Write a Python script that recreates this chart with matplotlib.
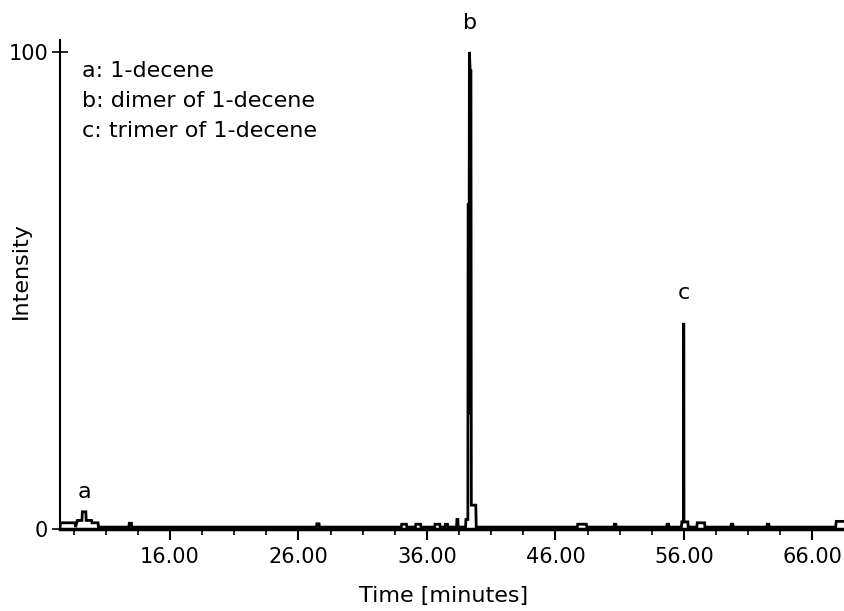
import matplotlib
matplotlib.use('Agg')
import matplotlib.pyplot as plt

# retention time (minutes) and relative intensity of the trace
rt = [7.44, 7.50, 8.60, 8.65, 8.80, 9.15, 9.18, 9.45, 9.48, 9.90, 9.93, 10.40, 10.43,
      12.80, 12.83, 13.00, 13.03,
      27.40, 27.43, 27.60, 27.63,
      34.00, 34.03, 34.40, 34.43, 35.10, 35.13, 35.50, 35.53,
      36.60, 36.63, 37.00, 37.03, 37.40, 37.43, 37.60, 37.63,
      38.30, 38.33, 38.40, 38.43,
      39.00, 39.03, 39.18, 39.20, 39.24, 39.26, 39.30, 39.36, 39.42, 39.45, 39.80, 39.83,
      47.70, 47.73, 48.40, 48.43, 50.55, 50.58, 50.70, 50.73,
      54.65, 54.68, 54.80, 54.83,
      55.80, 55.83, 55.97, 55.98, 56.00, 56.30, 56.33,
      57.00, 57.03, 57.60, 57.63,
      59.65, 59.68, 59.80, 59.83, 62.45, 62.48, 62.60, 62.63,
      67.80, 67.85, 68.53]
intensity = [0.4, 1.3, 1.3, 0.4, 1.8, 1.8, 3.6, 3.6, 1.8, 1.8, 1.3, 1.3, 0.4,
             0.4, 1.2, 1.2, 0.4,
             0.4, 1.1, 1.1, 0.4,
             0.4, 1.0, 1.0, 0.4, 0.4, 1.0, 1.0, 0.4,
             0.4, 1.0, 1.0, 0.4, 0.4, 1.0, 1.0, 0.4,
             0.4, 2.0, 2.0, 0.4,
             0.4, 2.0, 2.0, 68.0, 68.0, 24.0, 100.0, 96.0, 96.0, 5.0, 5.0, 0.4,
             0.4, 1.0, 1.0, 0.4, 0.4, 1.0, 1.0, 0.4,
             0.4, 1.0, 1.0, 0.4,
             0.4, 1.5, 1.5, 43.2, 1.5, 1.5, 0.4,
             0.4, 1.3, 1.3, 0.4,
             0.4, 1.0, 1.0, 0.4, 0.4, 1.0, 1.0, 0.4,
             0.4, 1.6, 1.6]

# peak labels: letter, time, height
peak_names = ['a', 'b', 'c']
peak_rt = [9.35, 39.32, 56.0]
peak_top = [3.6, 100.0, 43.2]
peak_offset = [20, 29, 30]

legend_lines = ['a: 1-decene', 'b: dimer of 1-decene', 'c: trimer of 1-decene']

xticks = [16, 26, 36, 46, 56, 66]
xtick_labels = ['16.00', '26.00', '36.00', '46.00', '56.00', '66.00']
xminor = [8.5 + 2.5 * k for k in range(25)]

plt.rcParams['font.family'] = 'DejaVu Sans'
plt.rcParams['font.size'] = 15

fig = plt.figure(figsize=(8.45, 6.11), dpi=100)
ax = fig.add_axes([60 / 845, 82 / 611, 785 / 845, 489 / 611])

ax.plot(rt, intensity, color='black', lw=2.0, solid_joinstyle='miter')

ax.set_xlim(7.44, 68.53)
ax.set_ylim(0, 102.5)

for s in ['top', 'right']:
    ax.spines[s].set_visible(False)
ax.spines['bottom'].set_linewidth(2.5)
ax.spines['left'].set_linewidth(1.5)

ax.set_xticks(xticks)
ax.set_xticklabels(xtick_labels)
ax.set_xticks([m for m in xminor if m not in xticks], minor=True)
ax.tick_params(axis='x', which='major', direction='out', length=8, width=1.5, pad=5)
ax.tick_params(axis='x', which='minor', direction='out', length=4, width=1.2)

ax.set_yticks([0, 100])
ax.set_yticklabels(['0', '100'])
ax.tick_params(axis='y', direction='inout', length=11, width=1.2, pad=3)

for name, t, h, off in zip(peak_names, peak_rt, peak_top, peak_offset):
    ax.annotate(name, (t, h), xytext=(0, off), textcoords='offset pixels',
                ha='center', va='center', fontsize=16, annotation_clip=False)

for i, line in enumerate(legend_lines):
    ax.text(0.028, 0.937 - i * 0.0615, line, transform=ax.transAxes,
            ha='left', va='center', fontsize=16)

ax.set_xlabel('Time [minutes]', fontsize=16)
ax.xaxis.set_label_coords(0.489, -0.117)
ax.set_ylabel('Intensity', fontsize=16)
ax.yaxis.set_label_coords(-0.037, 0.528)

fig.savefig('out.png', dpi=100)
